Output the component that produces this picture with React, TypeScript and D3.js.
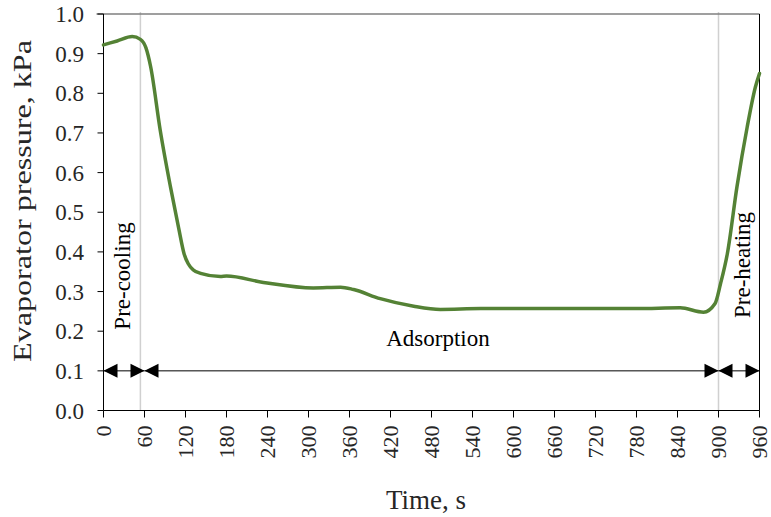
import React from "react";
import * as d3 from "d3";

const timeValues = [0, 20, 42, 54, 62, 69, 83, 98, 110, 118, 124, 131, 142, 171, 180, 234, 307, 347, 366, 405, 454, 493, 552, 660, 780, 844, 878, 895, 903, 913, 927, 942, 954, 960];
const pressureValues = [0.922, 0.932, 0.943, 0.936, 0.915, 0.867, 0.707, 0.564, 0.46, 0.395, 0.37, 0.355, 0.346, 0.338, 0.339, 0.323, 0.309, 0.311, 0.305, 0.282, 0.263, 0.255, 0.257, 0.257, 0.257, 0.259, 0.248, 0.27, 0.32, 0.396, 0.564, 0.715, 0.816, 0.85];
const xTicks = [0, 60, 120, 180, 240, 300, 360, 420, 480, 540, 600, 660, 720, 780, 840, 900, 960];
const yTicks = [0, 0.1, 0.2, 0.3, 0.4, 0.5, 0.6, 0.7, 0.8, 0.9, 1.0];
const phaseBounds = [54, 900];
const arrowSegments = [[0, 60], [60, 900], [900, 960]];
const arrowLevel = 0.1;

const FONT = '"Liberation Serif", "Times New Roman", serif';

export default function App() {
  const W = 771, H = 517;
  const left = 103.5, right = 759.5, top = 14, bottom = 410.5;
  const x = d3.scaleLinear().domain([0, 960]).range([left, right]);
  const y = d3.scaleLinear().domain([0, 1]).range([bottom, top]);
  const line = d3.line<number>()
    .x((_, i) => x(timeValues[i]))
    .y((d) => y(d))
    .curve(d3.curveMonotoneX);
  const path = line(pressureValues) || "";
  const ay = y(arrowLevel);
  const tri = (tipX: number, dir: number) => {
    const L = 14, h = 7;
    return `M${tipX},${ay} L${tipX - dir * L},${ay - h} L${tipX - dir * L},${ay + h} Z`;
  };
  return (
    <svg width={W} height={H} style={{ position: "absolute", left: 0, top: 0, background: "#fff" }} fontFamily={FONT}>
      {phaseBounds.map((t, i) => (
        <line key={i} x1={x(t)} x2={x(t)} y1={top - 2} y2={bottom} stroke="#d0d0d0" strokeWidth={1.5} />
      ))}
      <line x1={left - 7} x2={right} y1={top} y2={top} stroke="#7f7f7f" strokeWidth={1.3} />
      <line x1={right} x2={right} y1={top} y2={bottom} stroke="#000" strokeWidth={1} />
      <line x1={left} x2={left} y1={top} y2={bottom} stroke="#000" strokeWidth={1} />
      {yTicks.map((v) => (
        <g key={v}>
          <line x1={left - 6} x2={left} y1={y(v)} y2={y(v)} stroke="#000" strokeWidth={1} />
          <text x={84} y={y(v)} dy="0.35em" textAnchor="end" fontSize={23} fill="#262626">{v.toFixed(1)}</text>
        </g>
      ))}
      <line x1={left} x2={right} y1={bottom} y2={bottom} stroke="#000" strokeWidth={1} />
      {xTicks.map((t) => (
        <g key={t}>
          <line x1={x(t)} x2={x(t)} y1={bottom} y2={bottom + 7} stroke="#000" strokeWidth={1} />
          <text transform={`translate(${x(t)},${bottom + 15}) rotate(-90)`} dy="0.35em" textAnchor="end" fontSize={22} fill="#262626">{t}</text>
        </g>
      ))}
      <path d={path} fill="none" stroke="#548235" strokeWidth={3.5} strokeLinejoin="round" strokeLinecap="round" />
      {arrowSegments.map(([a, b], i) => (
        <g key={i}>
          <line x1={x(a)} x2={x(b)} y1={ay} y2={ay} stroke="#000" strokeWidth={1} />
          <path d={tri(x(a), -1)} fill="#000" />
          <path d={tri(x(b), 1)} fill="#000" />
        </g>
      ))}
      <text transform={`translate(122,276) rotate(-90)`} dy="0.35em" textAnchor="middle" fontSize={23} fill="#000">Pre-cooling</text>
      <text x={438} y={346} textAnchor="middle" fontSize={23} fill="#000">Adsorption</text>
      <text transform={`translate(742,265) rotate(-90)`} dy="0.35em" textAnchor="middle" fontSize={23} fill="#000">Pre-heating</text>
      <text transform={`translate(22,201) rotate(-90)`} dy="0.35em" textAnchor="middle" fontSize={26} textLength={322} lengthAdjust="spacingAndGlyphs" fill="#262626">Evaporator pressure, kPa</text>
      <text x={426} y={509} textAnchor="middle" fontSize={27} fill="#262626">Time, s</text>
    </svg>
  );
}
